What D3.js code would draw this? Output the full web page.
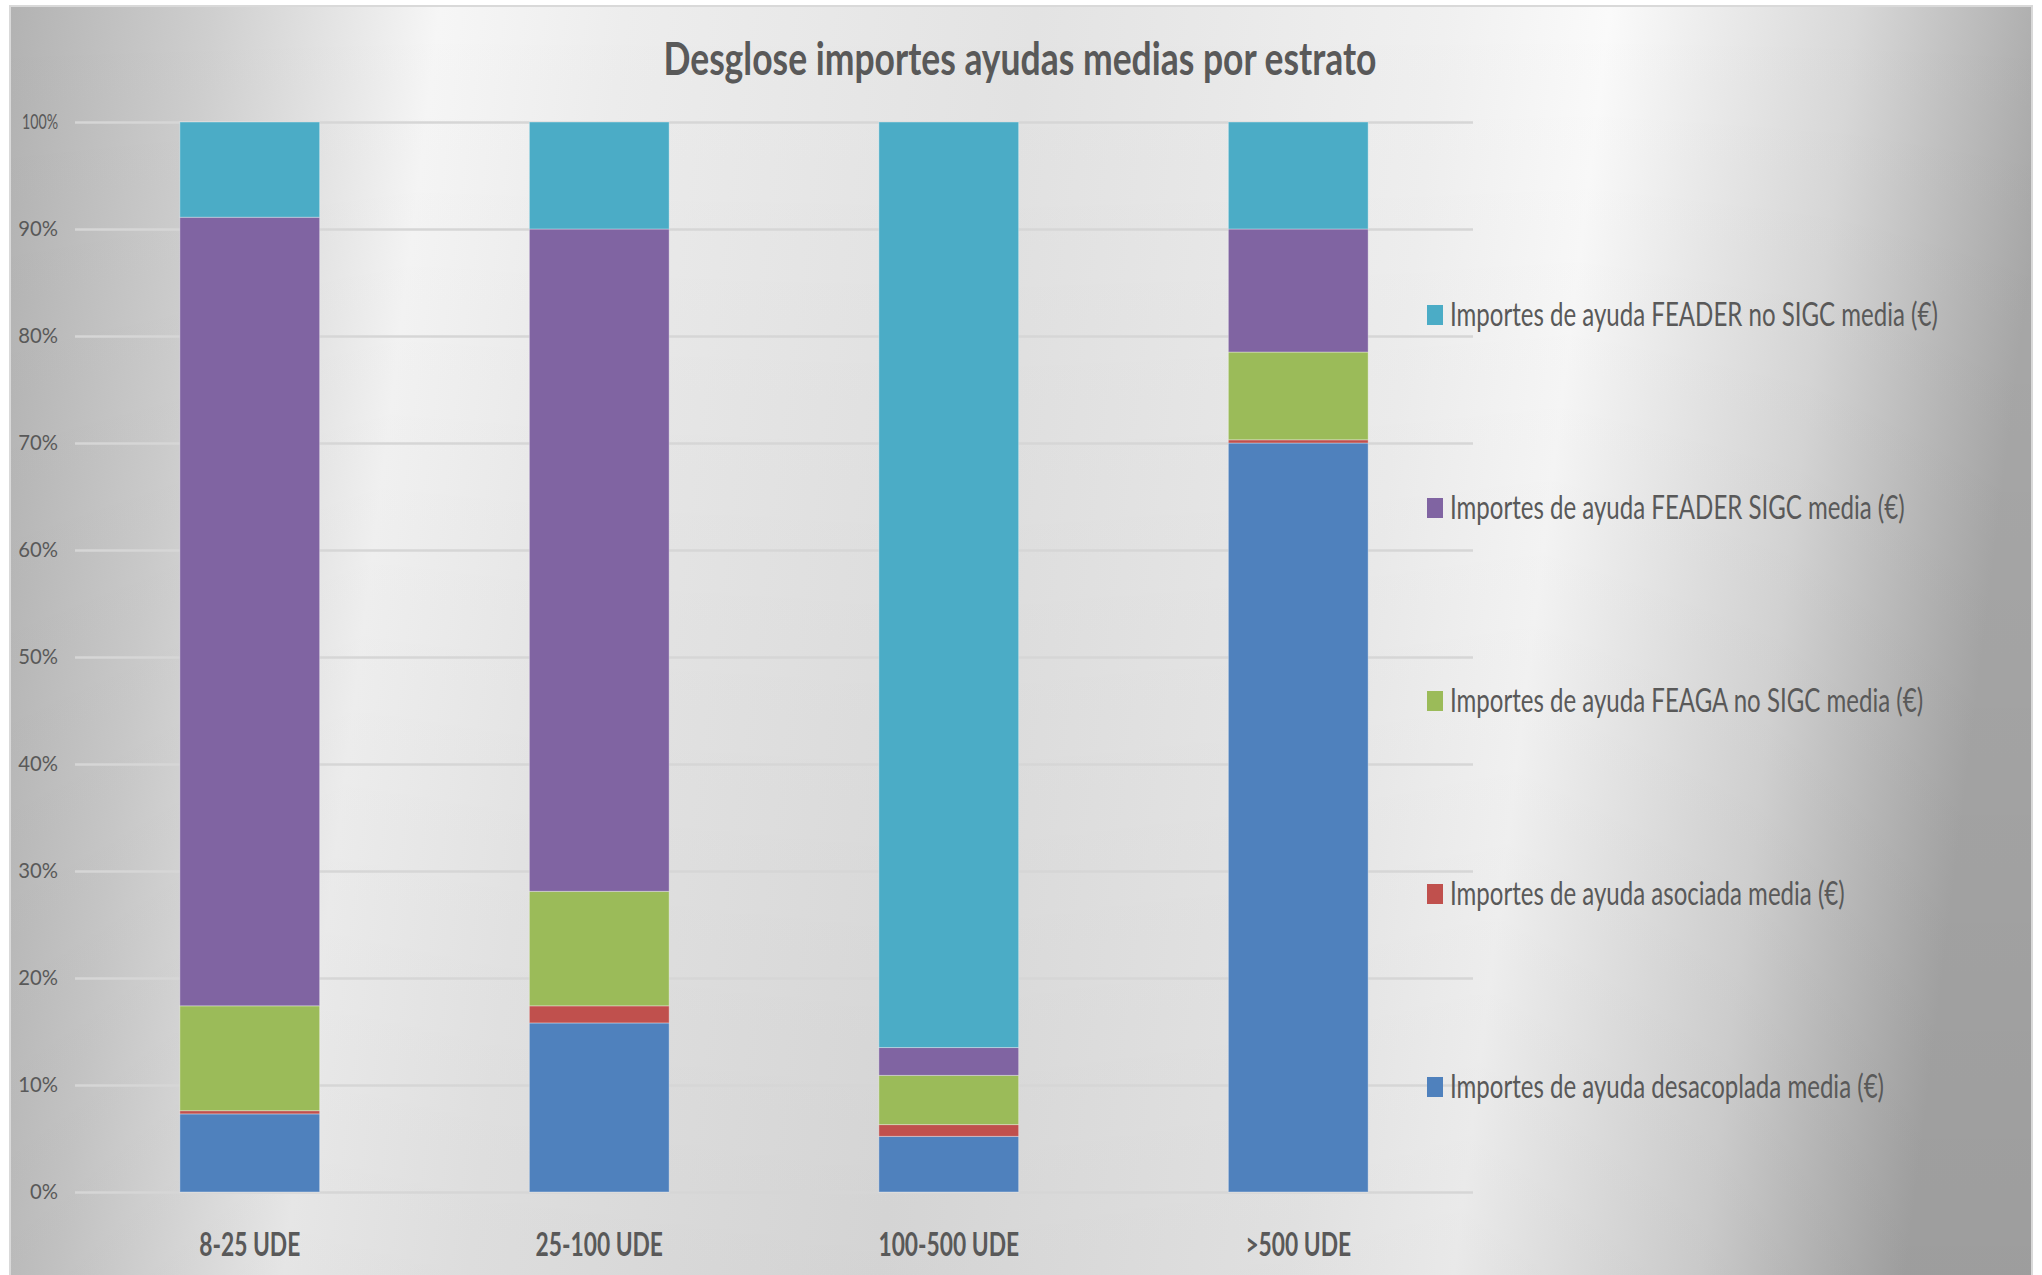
<!DOCTYPE html>
<html>
<head>
<meta charset="utf-8">
<script src="https://cdn.jsdelivr.net/npm/d3@7"></script>
<style>
  html, body { margin: 0; padding: 0; background: #fff; }
  text { font-family: Lato, "Open Sans", sans-serif; }
</style>
</head>
<body>
<div id="chart"></div>
<script>
const width = 2042, height = 1275;

const categories = ["8-25 UDE", "25-100 UDE", "100-500 UDE", ">500 UDE"];
// shares (%) of each aid type, bottom to top of each bar
const desacoplada = [7.3, 15.8, 5.2, 70.0];
const asociada = [0.3, 1.6, 1.1, 0.3];
const feagaNoSigc = [9.8, 10.7, 4.6, 8.2];
const feaderSigc = [73.7, 61.9, 2.6, 11.5];
const feaderNoSigc = [8.9, 10.0, 86.5, 10.0];

const seriesNames = [
  "Importes de ayuda desacoplada media (€)",
  "Importes de ayuda asociada media (€)",
  "Importes de ayuda FEAGA no SIGC media (€)",
  "Importes de ayuda FEADER SIGC media (€)",
  "Importes de ayuda FEADER no SIGC media (€)"
];
const seriesColors = ["#4f81bd", "#c0504d", "#9bbb59", "#8064a2", "#4bacc6"];
const yTicks = [0, 10, 20, 30, 40, 50, 60, 70, 80, 90, 100];

const seriesValues = [desacoplada, asociada, feagaNoSigc, feaderSigc, feaderNoSigc];
const rows = categories.map((c, i) => {
  const r = { cat: c };
  seriesNames.forEach((s, j) => r[s] = seriesValues[j][i]);
  return r;
});

const svg = d3.select("#chart").append("svg")
  .attr("width", width)
  .attr("height", height);

// background gradient (silver look)
const defs = svg.append("defs");
const grad = defs.append("linearGradient")
  .attr("id", "bg")
  .attr("gradientUnits", "userSpaceOnUse")
  .attr("x1", 10).attr("y1", 0)
  .attr("x2", 2032).attr("y2", 250);
[[0, "#b2b2b2"], [0.1, "#cfcfcf"], [0.21, "#f6f6f6"], [0.3, "#ededed"],
 [0.5, "#e3e3e3"], [0.7, "#f0f0f0"], [0.78, "#fafafa"], [0.9, "#d8d8d8"], [1, "#a9a9a9"]]
  .forEach(s => grad.append("stop").attr("offset", s[0]).attr("stop-color", s[1]));

const shade = defs.append("linearGradient")
  .attr("id", "shade")
  .attr("x1", 0).attr("y1", 0).attr("x2", 0).attr("y2", 1);
shade.append("stop").attr("offset", 0).attr("stop-color", "#000").attr("stop-opacity", 0);
shade.append("stop").attr("offset", 1).attr("stop-color", "#000").attr("stop-opacity", 0.07);

svg.append("rect")
  .attr("x", 10).attr("y", 6)
  .attr("width", 2022).attr("height", 1275)
  .attr("fill", "url(#bg)")
  .attr("stroke", "#d9d9d9")
  .attr("stroke-width", 2);
svg.append("rect")
  .attr("x", 11).attr("y", 7)
  .attr("width", 2020).attr("height", 1275)
  .attr("fill", "url(#shade)");

// squeeze a group of texts so that the first one gets the given width
function fitWidth(sel, target) {
  const nodes = sel.nodes();
  const factor = target / nodes[0].getComputedTextLength();
  nodes.forEach(n => {
    d3.select(n)
      .attr("textLength", n.getComputedTextLength() * factor)
      .attr("lengthAdjust", "spacingAndGlyphs");
  });
}

const x = d3.scaleBand()
  .domain(categories)
  .range([75, 1473])
  .paddingInner(0.6)
  .paddingOuter(0.3);

const y = d3.scaleLinear()
  .domain([0, 100])
  .range([1192, 122]);

// gridlines + y labels
const yAxis = svg.append("g")
  .attr("transform", "translate(75,0)")
  .call(d3.axisLeft(y)
    .tickValues(yTicks)
    .tickFormat(d => d + "%")
    .tickSize(-(1473 - 75))
    .tickPadding(17));
yAxis.select(".domain").remove();
yAxis.selectAll("line")
  .attr("stroke", "#d6d6d6")
  .attr("stroke-width", 2.5);
yAxis.selectAll("text")
  .attr("font-size", 21)
  .attr("fill", "#595959");
fitWidth(yAxis.selectAll("text").filter(d => d === 100), 36);
fitWidth(yAxis.selectAll("text").filter(d => d !== 100), 28);

// stacked bars
const stacked = d3.stack().keys(seriesNames)(rows);

svg.append("g")
  .selectAll("g")
  .data(stacked)
  .join("g")
  .attr("fill", (d, i) => seriesColors[i])
  .selectAll("rect")
  .data(d => d)
  .join("rect")
  .attr("x", d => x(d.data.cat))
  .attr("width", x.bandwidth())
  .attr("y", d => y(d[1]))
  .attr("height", d => y(d[0]) - y(d[1]))
  .attr("stroke", "rgba(255,255,255,0.35)")
  .attr("stroke-width", 1);

// x labels
const xAxis = svg.append("g")
  .attr("transform", "translate(0,1192)")
  .call(d3.axisBottom(x).tickSize(0).tickPadding(41));
xAxis.select(".domain").remove();
xAxis.selectAll("text")
  .attr("font-size", 33)
  .attr("font-weight", "bold")
  .attr("fill", "#595959");
fitWidth(xAxis.selectAll("text"), 101);

// title
const title = svg.append("text")
  .attr("x", 1020)
  .attr("y", 75)
  .attr("text-anchor", "middle")
  .attr("font-size", 46)
  .attr("font-weight", "bold")
  .attr("fill", "#595959")
  .text("Desglose importes ayudas medias por estrato");
fitWidth(title, 713);

// legend, top item is the top series
const legendY = d3.scalePoint()
  .domain(seriesNames.slice().reverse())
  .range([315, 1087]);

const legend = svg.append("g")
  .selectAll("g")
  .data(seriesNames)
  .join("g")
  .attr("transform", d => `translate(1427,${legendY(d)})`);

legend.append("rect")
  .attr("x", 0).attr("y", -10)
  .attr("width", 16).attr("height", 20)
  .attr("fill", (d, i) => seriesColors[i]);

// legend labels are narrowed with a horizontal scale on their own group
const legendLabel = legend.append("g")
  .attr("transform", "translate(24,11)");
const legendText = legendLabel.append("text")
  .attr("font-size", 32)
  .attr("fill", "#595959")
  .text(d => d);
const longest = legendText.filter(d => d === seriesNames[4]).node().getComputedTextLength();
legendLabel.attr("transform", `translate(23,11) scale(${488 / longest},1)`);
</script>
</body>
</html>
